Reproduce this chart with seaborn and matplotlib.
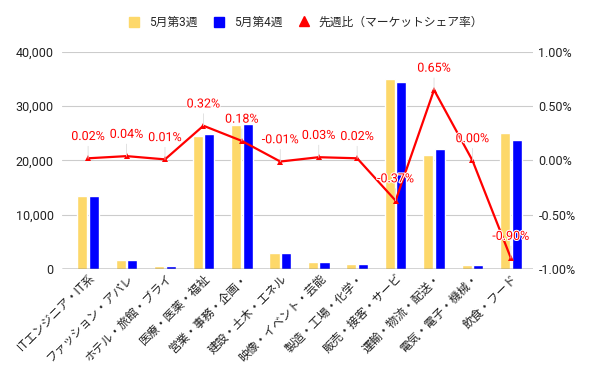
import numpy as np
import pandas as pd
import matplotlib
matplotlib.use("Agg")
import matplotlib.pyplot as plt
import matplotlib.patheffects as pe
from matplotlib.patches import Patch
from matplotlib.lines import Line2D
from matplotlib.ticker import FuncFormatter
import seaborn as sns

categories = ["ITエンジニア・IT系", "ファッション・アパレ", "ホテル・旅館・ブライ", "医療・医薬・福祉",
              "営業・事務・企画・", "建設・土木・エネル", "映像・イベント・芸能", "製造・工場・化学・",
              "販売・接客・サービ", "運輸・物流・配送・", "電気・電子・機械・", "飲食・フード"]
week3 = [13400, 1700, 550, 24500, 26450, 2950, 1300, 950, 34950, 20950, 700, 25050]
week4 = [13400, 1700, 600, 24900, 26800, 3000, 1300, 950, 34450, 22050, 700, 23700]
share_change = [0.02, 0.04, 0.01, 0.32, 0.18, -0.01, 0.03, 0.02, -0.37, 0.65, 0.00, -0.90]
series_names = ["5月第3週", "5月第4週", "先週比（マーケットシェア率）"]

sns.set_theme(style="white")
plt.rcParams['font.family'] = ['Roboto', 'Noto Sans CJK JP', 'DejaVu Sans']

yellow = "#FDD86A"
blue = "#0000FF"
red = "#FF0000"

df = pd.DataFrame({
    "cat": categories * 2,
    "val": week3 + week4,
    "week": [series_names[0]] * 12 + [series_names[1]] * 12,
})

fig = plt.figure(figsize=(6, 3.71), dpi=100)
ax = fig.add_axes([0.1033, 0.275, 0.7847, 0.585])

sns.barplot(data=df, x="cat", y="val", hue="week", palette=[yellow, blue],
            width=0.6, gap=0.12, ax=ax, legend=False, saturation=1)

ax.set_ylim(0, 40000)
ax.set_yticks([0, 10000, 20000, 30000, 40000])
ax.yaxis.set_major_formatter(FuncFormatter(lambda v, p: f"{int(v):,}"))
ax.set_xlim(-0.68, 11.57)
ax.grid(axis="y", color="#cccccc", linewidth=0.8)
ax.set_axisbelow(True)
for s in ax.spines.values():
    s.set_visible(False)
ax.axhline(0, color="#333333", linewidth=1, zorder=5)
ax.set_xlabel("")
ax.set_ylabel("")
ax.tick_params(axis="y", labelsize=9, colors="#222222", length=0, pad=6)
ax.tick_params(axis="x", labelsize=8.5, colors="#222222", length=0, pad=2)
plt.setp(ax.get_xticklabels(), rotation=45, ha="right", rotation_mode="anchor")

ax2 = ax.twinx()
x = np.arange(len(categories))
sns.lineplot(x=x, y=share_change, ax=ax2, color=red, linewidth=1.6, marker="^",
             markersize=4.5, markeredgewidth=0, zorder=6)
ax2.set_ylim(-1.0, 1.0)
ax2.set_yticks([-1.0, -0.5, 0.0, 0.5, 1.0])
ax2.yaxis.set_major_formatter(FuncFormatter(lambda v, p: f"{v:.2f}%"))
ax2.tick_params(axis="y", labelsize=9, colors="#222222", length=0, pad=4)
for s in ax2.spines.values():
    s.set_visible(False)

# data labels with faint leader lines
for xi, v in zip(x, share_change):
    ax2.annotate(f"{v:.2f}%", xy=(xi, v), xytext=(0, 11), textcoords="offset points",
                 ha="center", va="bottom", fontsize=9, color=red, zorder=7,
                 path_effects=[pe.withStroke(linewidth=1.5, foreground="white")],
                 arrowprops=dict(arrowstyle="-", color="#dddddd", lw=0.6,
                                 shrinkA=0, shrinkB=0))

handles = [Patch(color=yellow), Patch(color=blue),
           Line2D([], [], color=red, marker="^", linestyle="none", markersize=7)]
fig.legend(handles, series_names, loc="center", bbox_to_anchor=(0.51, 0.94), ncol=3,
           frameon=False, fontsize=8.5, handlelength=0.9, handleheight=0.9,
           columnspacing=1.4, handletextpad=0.8)

fig.savefig("out.png", dpi=100)
